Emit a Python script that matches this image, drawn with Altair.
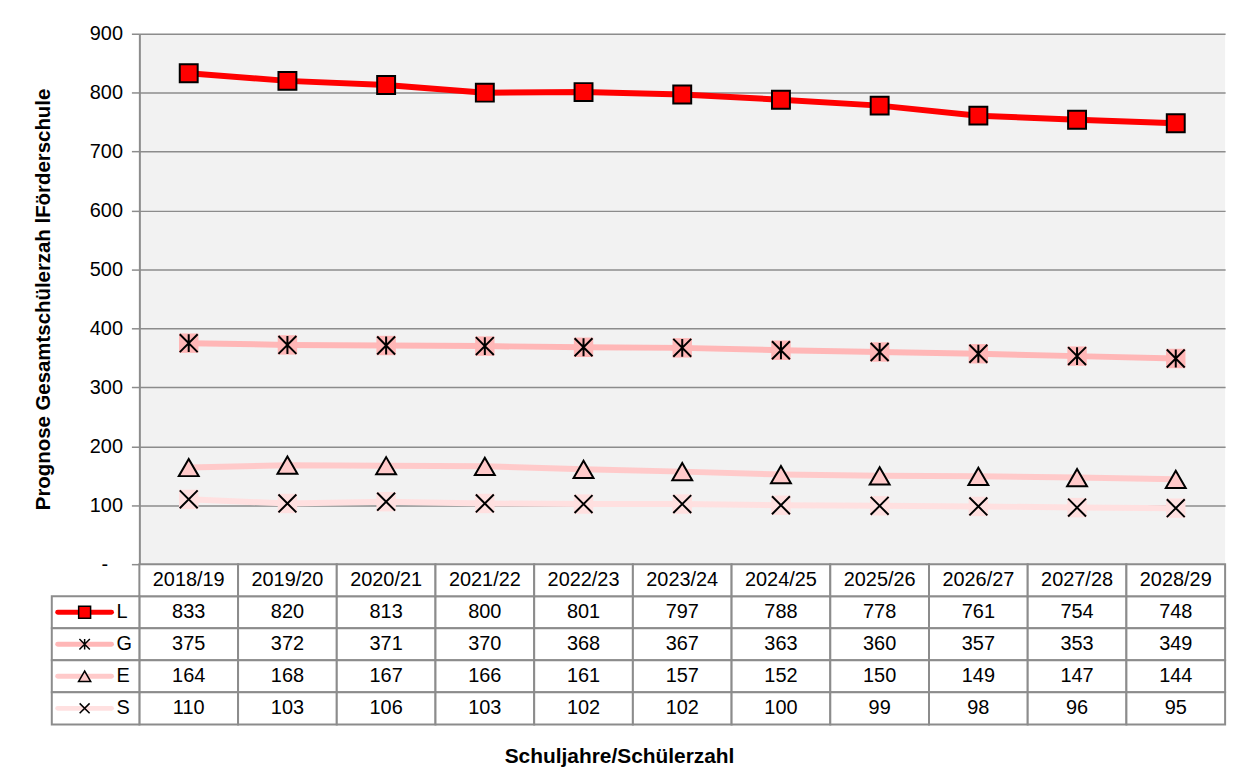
import altair as alt
import pandas as pd

# ---------------- data ----------------
years = ["2018/19", "2019/20", "2020/21", "2021/22", "2022/23", "2023/24",
         "2024/25", "2025/26", "2026/27", "2027/28", "2028/29"]
series = ["L", "G", "E", "S"]
L_vals = [833, 820, 813, 800, 801, 797, 788, 778, 761, 754, 748]
G_vals = [375, 372, 371, 370, 368, 367, 363, 360, 357, 353, 349]
E_vals = [164, 168, 167, 166, 161, 157, 152, 150, 149, 147, 144]
S_vals = [110, 103, 106, 103, 102, 102, 100, 99, 98, 96, 95]
y_ticks = [0, 100, 200, 300, 400, 500, 600, 700, 800, 900]
y_title = "Prognose Gesamtschülerzah lFörderschule"
x_title = "Schuljahre/Schülerzahl"

# ---------------- styles ----------------
line_colors = ["#ff0000", "#ffb7b7", "#ffcaca", "#ffe0e0"]
GRID = "#8c8c8c"
FONT = "Liberation Sans"
W, H_PLOT, H_ALL = 1091, 533, 694
ASTER = "M0,-1L0,1M-1,-1L1,1M-1,1L1,-1"
CROSS = "M-1,-1L1,1M-1,1L1,-1"

header_row = "Jahr"
rows = [header_row] + series

long = pd.DataFrame(
    [{"year": y, "series": s, "value": v}
     for s, vals in zip(series, [L_vals, G_vals, E_vals, S_vals])
     for y, v in zip(years, vals)]
)
cells = pd.concat([
    pd.DataFrame({"year": long["year"], "row": long["series"],
                  "label": long["value"].astype(str)}),
    pd.DataFrame({"year": years, "row": header_row, "label": years}),
], ignore_index=True)
leg = pd.DataFrame({"col": "leg", "row": series})

color_scale = alt.Scale(domain=series, range=line_colors)
col_enc = alt.Color("series:N", scale=color_scale, legend=None)

# ---------------- line chart ----------------
xl = alt.X("year:N", sort=years, scale=alt.Scale(type="point", padding=0.5), axis=None)
yl = alt.Y(
    "value:Q",
    scale=alt.Scale(domain=[0, 900], range=[H_PLOT, 0], nice=False, zero=True),
    axis=alt.Axis(
        values=y_ticks,
        labelExpr="datum.value == 0 ? '-' : datum.label",
        grid=True, gridColor=GRID, gridWidth=1.5,
        domainColor=GRID, domainWidth=2,
        tickColor=GRID, tickWidth=1.5, tickSize=8,
        labelFontSize=20, labelColor="black",
        labelPadding={"condition": {"test": "datum.value == 0", "value": 24}, "value": 9},
        title=y_title, titleFontSize=20.5, titleFontWeight="bold", titleColor="black",
        titleX=-96, titleY=H_PLOT / 2, titleAngle=270,
        titleAlign="center", titleBaseline="middle",
    ),
)
base = alt.Chart(long).encode(x=xl, y=yl)
lines = base.mark_line(strokeWidth=6).encode(color=col_enc)
bg_sq = base.transform_filter("datum.series == 'G' || datum.series == 'S'").mark_square(
    size=380, opacity=1).encode(color=col_enc)
m_L = base.transform_filter("datum.series == 'L'").mark_square(
    size=324, fill="#ff0000", stroke="black", strokeWidth=2, opacity=1)
m_G = base.transform_filter("datum.series == 'G'").mark_point(
    shape=ASTER, size=324, stroke="black", strokeWidth=2, filled=False, opacity=1)
m_E = base.transform_filter("datum.series == 'E'").mark_point(
    shape="triangle-up", size=400, filled=True, fill="#ffcaca", stroke="black",
    strokeWidth=2, opacity=1)
m_S = base.transform_filter("datum.series == 'S'").mark_point(
    shape=CROSS, size=324, stroke="black", strokeWidth=2, filled=False, opacity=1)
line_group = alt.layer(lines, bg_sq, m_L, m_G, m_E, m_S)

# ---------------- data table ----------------
xt = alt.X("year:N", sort=years,
           scale=alt.Scale(type="band", paddingInner=0, paddingOuter=0),
           axis=alt.Axis(labels=False, ticks=False, domain=False, grid=False,
                         title=x_title, titleFontSize=21, titleFontWeight="bold",
                         titleColor="black", titleX=482, titleY=32,
                         titleAlign="center", titleBaseline="middle"))
yt = alt.Y("row:N", sort=rows,
           scale=alt.Scale(type="band", domain=rows, range=[H_PLOT, H_ALL],
                           paddingInner=0, paddingOuter=0),
           axis=None)
t_rect = alt.Chart(cells).mark_rect(fill="white", stroke=GRID, strokeWidth=2).encode(x=xt, y=yt)
t_text = alt.Chart(cells).mark_text(fontSize=20, color="black", baseline="middle").encode(
    x=xt, y=yt, text="label:N")
table_group = alt.layer(t_rect, t_text)

# ---------------- legend column ----------------
xg = alt.X("col:N", scale=alt.Scale(type="band", domain=["leg"], range=[-88, 0],
                                     paddingInner=0, paddingOuter=0), axis=None)
yg = alt.Y("row:N", sort=rows,
           scale=alt.Scale(type="band", domain=rows, range=[H_PLOT, H_ALL],
                           paddingInner=0, paddingOuter=0),
           axis=None)
lb = alt.Chart(leg).encode(x=xg, y=yg)
g_rect = lb.mark_rect(fill="white", stroke=GRID, strokeWidth=2)
g_line = lb.mark_point(shape="stroke", size=54 * 54, strokeWidth=5, strokeCap="round",
                       xOffset=-11, opacity=1, filled=False).encode(
    stroke=alt.Stroke("row:N", scale=color_scale, legend=None))
g_L = lb.transform_filter("datum.row == 'L'").mark_square(
    size=144, fill="#ff0000", stroke="black", strokeWidth=1.5, opacity=1, xOffset=-11)
g_G = lb.transform_filter("datum.row == 'G'").mark_point(
    shape=ASTER, size=110, stroke="black", strokeWidth=1.5, filled=False, opacity=1, xOffset=-11)
g_E = lb.transform_filter("datum.row == 'E'").mark_point(
    shape="triangle-up", size=150, filled=True, fill="#ffcaca", stroke="black",
    strokeWidth=1.5, opacity=1, xOffset=-11)
g_S = lb.transform_filter("datum.row == 'S'").mark_point(
    shape=CROSS, size=100, stroke="black", strokeWidth=1.5, filled=False, opacity=1, xOffset=-11)
g_txt = lb.mark_text(fontSize=20, color="black", align="left", baseline="middle", dx=21).encode(
    text="row:N")
legend_group = alt.layer(g_rect, g_line, g_L, g_G, g_E, g_S, g_txt)

chart = (
    alt.layer(line_group, table_group, legend_group)
    .resolve_scale(x="independent", y="independent")
    .properties(
        width=W, height=H_ALL,
        autosize=alt.AutoSizeParams(type="none"),
        padding={"left": 132, "top": 24, "right": 24, "bottom": 50},
        background="white",
    )
    .configure(font=FONT)
    .configure_view(fill="#f2f2f2", strokeWidth=0)
)

chart.save("out.html", embed_options={"renderer": "svg", "actions": False})
